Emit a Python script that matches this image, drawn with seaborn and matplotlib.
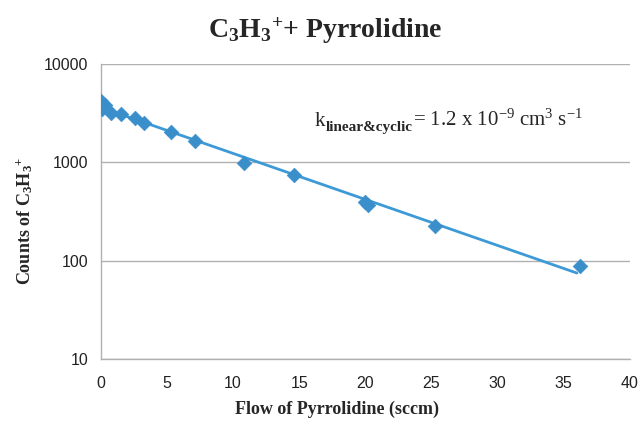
import numpy as np
import pandas as pd
import matplotlib
matplotlib.use("Agg")
import matplotlib.pyplot as plt
import matplotlib.transforms as mtransforms
import seaborn as sns

# Data
flow = [0.0, 0.1, 0.35, 0.8, 1.5, 2.6, 3.3, 5.3, 7.1, 10.8, 14.6, 20.0, 20.2, 25.3, 36.2]
counts = [4250, 3450, 3850, 3200, 3120, 2830, 2520, 2040, 1650, 990, 740, 400, 365, 225, 88]
x_ticks = [0, 5, 10, 15, 20, 25, 30, 35, 40]
y_ticks = [10, 100, 1000, 10000]
y_tick_labels = ["10", "100", "1000", "10000"]

title = "C$_\\mathbf{3}$H$_\\mathbf{3}$$^\\mathbf{+}$+ Pyrrolidine"
xlabel = "Flow of Pyrrolidine (sccm)"
ylabel = "Counts of C$_\\mathbf{3}$H$_\\mathbf{3}$$^\\mathbf{+}$"
annot_k = "k"
annot_sub = "linear&cyclic"
annot_rest = "= 1.2 x 10$^{-9}$ cm$^{3}$ s$^{-1}$"

df = pd.DataFrame({"flow": flow, "counts": counts})

sns.set_style("white")
plt.rcParams["mathtext.fontset"] = "custom"
plt.rcParams["mathtext.rm"] = "Liberation Serif"
plt.rcParams["mathtext.it"] = "Liberation Serif:italic"
plt.rcParams["mathtext.bf"] = "Liberation Serif:bold"
plt.rcParams["mathtext.default"] = "rm"
plt.rcParams["font.family"] = ["Liberation Sans", "DejaVu Sans"]

fig = plt.figure(figsize=(6.42, 4.24), dpi=100)
ax = fig.add_axes([0.157, 0.153, 0.824, 0.696])

blue = "#3a8fcb"
# trend line (exponential fit)
coef = np.polyfit(df["flow"], np.log10(df["counts"]), 1)
xf = np.array([0.0, 36.0])
line_df = pd.DataFrame({"flow": xf, "counts": 10 ** np.polyval(coef, xf)})
sns.lineplot(data=line_df, x="flow", y="counts", ax=ax, color="#3d9ad6", lw=2.0, zorder=2)
sns.scatterplot(data=df, x="flow", y="counts", ax=ax, marker="D", s=55,
                color=blue, edgecolor=blue, linewidth=0.5, zorder=3)

ax.set_yscale("log")
ax.set_xlim(0, 40)
ax.set_ylim(10, 10000)
ax.set_xticks(x_ticks)
ax.set_xticklabels([str(t) for t in x_ticks])
ax.set_yticks(y_ticks)
ax.set_yticklabels(y_tick_labels)
ax.minorticks_off()
ax.tick_params(axis="both", length=0, labelsize=11.5, colors="#222222")
ax.tick_params(axis="x", pad=12)
ax.tick_params(axis="y", pad=9)
ax.yaxis.grid(True, color="#b0b0b0", lw=1.0)
ax.xaxis.grid(False)
for s in ["top", "right"]:
    ax.spines[s].set_visible(False)
for s in ["left", "bottom"]:
    ax.spines[s].set_color("#b0b0b0")
    ax.spines[s].set_linewidth(1.0)

ax.set_xlabel(xlabel, fontfamily="Liberation Serif", fontweight="bold", fontsize=13)
ax.set_ylabel(ylabel, fontfamily="Liberation Serif", fontweight="bold", fontsize=13)
ax.xaxis.set_label_coords(0.446, -0.14)
ax.yaxis.set_label_coords(-0.125, 0.47)
fig.text(0.506, 0.928, title, ha="center", va="center", fontfamily="Liberation Serif",
         fontweight="bold", fontsize=20)

# annotation built from pieces (k + bold subscript + rest)
fig.canvas.draw()
renderer = fig.canvas.get_renderer()
x0, y0 = 0.405, 0.79
t1 = ax.text(x0, y0, annot_k, transform=ax.transAxes, ha="left", va="baseline",
             fontfamily="Liberation Serif", fontsize=15)
bb = t1.get_window_extent(renderer)
off = mtransforms.offset_copy(ax.transAxes, fig=fig, x=bb.width * 72 / fig.dpi, y=-3.5, units="points")
t2 = ax.text(x0, y0, annot_sub, transform=off, ha="left", va="baseline",
             fontfamily="Liberation Serif", fontweight="bold", fontsize=11)
bb2 = t2.get_window_extent(renderer)
off2 = mtransforms.offset_copy(ax.transAxes, fig=fig,
                               x=(bb.width + bb2.width) * 72 / fig.dpi, y=0, units="points")
ax.text(x0, y0, annot_rest, transform=off2, ha="left", va="baseline",
        fontfamily="Liberation Serif", fontsize=15)

fig.savefig("out.png", dpi=100)
